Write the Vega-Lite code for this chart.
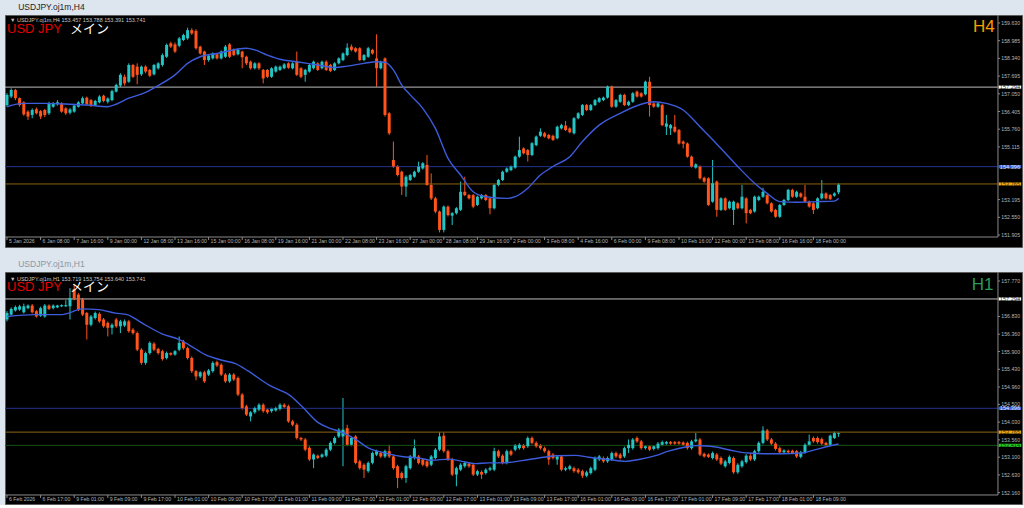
{
"$schema":"https://vega.github.io/schema/vega-lite/v6.json",
"background":"#dde5ee",
"padding":{"left":3,"right":4,"top":2,"bottom":0},
"spacing":11,
"datasets":{
"h4":[
{"i":0,"o":156.64,"h":157.07,"l":156.58,"c":157.01},{"i":1,"o":156.95,"h":157.25,"l":156.89,"c":157.19},{"i":2,"o":157.19,"h":157.23,"l":156.82,"c":156.89},{"i":3,"o":156.89,"h":156.92,"l":156.58,"c":156.64},{"i":4,"o":156.74,"h":156.78,"l":156.25,"c":156.30},{"i":5,"o":156.40,"h":156.45,"l":156.10,"c":156.22},{"i":6,"o":156.28,"h":156.52,"l":156.16,"c":156.46},{"i":7,"o":156.49,"h":156.55,"l":156.30,"c":156.34},{"i":8,"o":156.42,"h":156.46,"l":156.13,"c":156.22},{"i":9,"o":156.46,"h":156.50,"l":156.20,"c":156.28},
{"i":10,"o":156.34,"h":156.76,"l":156.28,"c":156.70},{"i":11,"o":156.58,"h":156.75,"l":156.54,"c":156.70},{"i":12,"o":156.67,"h":156.82,"l":156.62,"c":156.74},{"i":13,"o":156.70,"h":156.74,"l":156.36,"c":156.40},{"i":14,"o":156.52,"h":156.56,"l":156.28,"c":156.34},{"i":15,"o":156.36,"h":156.53,"l":156.30,"c":156.48},{"i":16,"o":156.40,"h":156.66,"l":156.36,"c":156.62},{"i":17,"o":156.58,"h":156.78,"l":156.55,"c":156.74},{"i":18,"o":156.70,"h":156.95,"l":156.66,"c":156.89},{"i":19,"o":156.91,"h":156.95,"l":156.62,"c":156.67},
{"i":20,"o":156.82,"h":156.86,"l":156.57,"c":156.62},{"i":21,"o":156.64,"h":156.83,"l":156.60,"c":156.79},{"i":22,"o":156.74,"h":157.00,"l":156.70,"c":156.95},{"i":23,"o":156.98,"h":157.02,"l":156.74,"c":156.79},{"i":24,"o":156.76,"h":156.92,"l":156.70,"c":156.88},{"i":25,"o":156.82,"h":157.20,"l":156.78,"c":157.15},{"i":26,"o":157.13,"h":157.42,"l":157.10,"c":157.37},{"i":27,"o":157.35,"h":157.80,"l":157.30,"c":157.74},{"i":28,"o":157.67,"h":157.75,"l":157.35,"c":157.43},{"i":29,"o":157.49,"h":158.16,"l":157.45,"c":158.10},
{"i":30,"o":158.10,"h":158.14,"l":157.62,"c":157.67},{"i":31,"o":158.04,"h":158.16,"l":157.40,"c":157.74},{"i":32,"o":157.76,"h":158.08,"l":157.70,"c":158.04},{"i":33,"o":158.04,"h":158.09,"l":157.80,"c":157.86},{"i":34,"o":157.92,"h":157.96,"l":157.66,"c":157.71},{"i":35,"o":157.76,"h":158.14,"l":157.72,"c":158.10},{"i":36,"o":157.98,"h":158.20,"l":157.93,"c":158.16},{"i":37,"o":158.10,"h":158.52,"l":158.04,"c":158.46},{"i":38,"o":158.40,"h":158.88,"l":158.36,"c":158.83},{"i":39,"o":158.89,"h":158.95,"l":158.72,"c":158.77},
{"i":40,"o":158.85,"h":158.92,"l":158.54,"c":158.59},{"i":41,"o":158.80,"h":159.12,"l":158.75,"c":159.07},{"i":42,"o":159.01,"h":159.24,"l":158.97,"c":159.19},{"i":43,"o":159.07,"h":159.46,"l":159.02,"c":159.37},{"i":44,"o":159.37,"h":159.44,"l":159.20,"c":159.25},{"i":45,"o":159.34,"h":159.40,"l":158.66,"c":158.71},{"i":46,"o":158.77,"h":158.80,"l":158.48,"c":158.52},{"i":47,"o":158.59,"h":158.62,"l":158.10,"c":158.28},{"i":48,"o":158.28,"h":158.48,"l":158.22,"c":158.44},{"i":49,"o":158.34,"h":158.56,"l":158.30,"c":158.52},
{"i":50,"o":158.49,"h":158.54,"l":158.30,"c":158.34},{"i":51,"o":158.34,"h":158.63,"l":158.30,"c":158.59},{"i":52,"o":158.40,"h":158.83,"l":158.36,"c":158.77},{"i":53,"o":158.85,"h":158.90,"l":158.35,"c":158.40},{"i":54,"o":158.65,"h":158.70,"l":158.42,"c":158.46},{"i":55,"o":158.49,"h":158.70,"l":158.45,"c":158.65},{"i":56,"o":158.59,"h":158.62,"l":157.98,"c":158.38},{"i":57,"o":158.40,"h":158.44,"l":158.10,"c":158.16},{"i":58,"o":158.22,"h":158.26,"l":157.93,"c":157.98},{"i":59,"o":157.98,"h":158.20,"l":157.94,"c":158.16},
{"i":60,"o":158.16,"h":158.20,"l":157.92,"c":157.98},{"i":61,"o":157.92,"h":157.96,"l":157.43,"c":157.61},{"i":62,"o":157.92,"h":157.95,"l":157.62,"c":157.67},{"i":63,"o":157.67,"h":158.02,"l":157.63,"c":157.98},{"i":64,"o":157.86,"h":158.08,"l":157.82,"c":158.04},{"i":65,"o":157.92,"h":158.08,"l":157.88,"c":158.04},{"i":66,"o":157.98,"h":158.17,"l":157.94,"c":158.12},{"i":67,"o":158.16,"h":158.20,"l":157.96,"c":158.00},{"i":68,"o":157.98,"h":158.20,"l":157.94,"c":158.16},{"i":69,"o":158.22,"h":158.59,"l":157.70,"c":157.74},
{"i":70,"o":157.98,"h":158.02,"l":157.62,"c":157.67},{"i":71,"o":157.74,"h":157.96,"l":157.49,"c":157.92},{"i":72,"o":157.86,"h":158.14,"l":157.82,"c":158.10},{"i":73,"o":157.98,"h":158.26,"l":157.94,"c":158.22},{"i":74,"o":158.16,"h":158.20,"l":157.88,"c":157.92},{"i":75,"o":157.98,"h":158.26,"l":157.94,"c":158.22},{"i":76,"o":158.22,"h":158.27,"l":157.88,"c":157.92},{"i":77,"o":158.10,"h":158.14,"l":157.84,"c":157.88},{"i":78,"o":157.92,"h":158.20,"l":157.88,"c":158.16},{"i":79,"o":158.16,"h":158.38,"l":158.12,"c":158.34},
{"i":80,"o":158.28,"h":158.56,"l":158.24,"c":158.52},{"i":81,"o":158.46,"h":158.89,"l":158.42,"c":158.73},{"i":82,"o":158.77,"h":158.85,"l":158.60,"c":158.65},{"i":83,"o":158.71,"h":158.75,"l":158.55,"c":158.59},{"i":84,"o":158.71,"h":158.75,"l":158.24,"c":158.28},{"i":85,"o":158.28,"h":158.50,"l":158.24,"c":158.46},{"i":86,"o":158.40,"h":158.76,"l":158.36,"c":158.71},{"i":87,"o":158.65,"h":158.69,"l":158.48,"c":158.52},{"i":88,"o":158.34,"h":159.22,"l":157.31,"c":157.98},{"i":89,"o":157.98,"h":158.26,"l":157.94,"c":158.22},
{"i":90,"o":158.34,"h":158.38,"l":156.22,"c":156.28},{"i":91,"o":156.34,"h":156.38,"l":155.55,"c":155.61},{"i":92,"o":154.64,"h":155.31,"l":154.35,"c":154.40},{"i":93,"o":154.40,"h":154.45,"l":154.04,"c":154.09},{"i":94,"o":154.21,"h":154.25,"l":153.36,"c":153.67},{"i":95,"o":153.67,"h":154.08,"l":153.30,"c":154.03},{"i":96,"o":153.91,"h":154.13,"l":153.87,"c":154.09},{"i":97,"o":154.03,"h":154.25,"l":153.99,"c":154.21},{"i":98,"o":154.21,"h":154.58,"l":154.17,"c":154.40},{"i":99,"o":154.33,"h":154.56,"l":154.29,"c":154.52},
{"i":100,"o":154.46,"h":154.82,"l":153.70,"c":153.73},{"i":101,"o":153.73,"h":154.15,"l":153.18,"c":153.24},{"i":102,"o":153.24,"h":153.30,"l":152.70,"c":152.76},{"i":103,"o":152.76,"h":152.80,"l":152.00,"c":152.09},{"i":104,"o":152.09,"h":152.98,"l":152.00,"c":152.94},{"i":105,"o":152.94,"h":152.98,"l":152.58,"c":152.63},{"i":106,"o":152.61,"h":152.74,"l":152.27,"c":152.70},{"i":107,"o":152.70,"h":152.92,"l":152.65,"c":152.88},{"i":108,"o":152.82,"h":153.85,"l":152.78,"c":153.48},{"i":109,"o":153.48,"h":154.03,"l":153.32,"c":153.36},
{"i":110,"o":153.36,"h":153.40,"l":153.20,"c":153.24},{"i":111,"o":153.36,"h":153.40,"l":152.88,"c":152.94},{"i":112,"o":153.00,"h":153.34,"l":152.96,"c":153.30},{"i":113,"o":153.24,"h":153.40,"l":153.20,"c":153.36},{"i":114,"o":153.36,"h":153.40,"l":153.14,"c":153.18},{"i":115,"o":153.24,"h":153.28,"l":152.66,"c":152.88},{"i":116,"o":152.88,"h":153.77,"l":152.84,"c":153.73},{"i":117,"o":153.73,"h":153.95,"l":153.68,"c":153.91},{"i":118,"o":153.91,"h":154.25,"l":153.87,"c":154.21},{"i":119,"o":154.21,"h":154.37,"l":154.17,"c":154.33},
{"i":120,"o":154.27,"h":154.44,"l":154.23,"c":154.40},{"i":121,"o":154.36,"h":154.80,"l":154.32,"c":154.76},{"i":122,"o":154.76,"h":155.49,"l":154.72,"c":155.00},{"i":123,"o":155.06,"h":155.10,"l":154.84,"c":154.88},{"i":124,"o":155.00,"h":155.04,"l":154.58,"c":154.82},{"i":125,"o":154.82,"h":155.29,"l":154.78,"c":155.25},{"i":126,"o":155.18,"h":155.53,"l":155.14,"c":155.49},{"i":127,"o":155.52,"h":155.79,"l":155.48,"c":155.67},{"i":128,"o":155.61,"h":155.66,"l":155.45,"c":155.49},{"i":129,"o":155.55,"h":155.59,"l":155.39,"c":155.43},
{"i":130,"o":155.52,"h":155.56,"l":155.33,"c":155.37},{"i":131,"o":155.43,"h":155.89,"l":155.39,"c":155.85},{"i":132,"o":155.79,"h":155.96,"l":155.75,"c":155.91},{"i":133,"o":155.89,"h":156.06,"l":155.69,"c":155.73},{"i":134,"o":155.79,"h":155.83,"l":155.61,"c":155.65},{"i":135,"o":155.61,"h":156.20,"l":155.57,"c":156.16},{"i":136,"o":156.16,"h":156.38,"l":156.12,"c":156.34},{"i":137,"o":156.28,"h":156.68,"l":156.24,"c":156.64},{"i":138,"o":156.64,"h":156.68,"l":156.42,"c":156.46},{"i":139,"o":156.46,"h":156.68,"l":156.42,"c":156.64},
{"i":140,"o":156.64,"h":156.86,"l":156.60,"c":156.82},{"i":141,"o":156.76,"h":156.93,"l":156.72,"c":156.89},{"i":142,"o":156.82,"h":156.95,"l":156.78,"c":156.91},{"i":143,"o":156.91,"h":157.35,"l":156.87,"c":157.31},{"i":144,"o":157.31,"h":157.35,"l":156.54,"c":156.58},{"i":145,"o":156.58,"h":156.86,"l":156.54,"c":156.82},{"i":146,"o":156.76,"h":157.05,"l":156.72,"c":157.01},{"i":147,"o":157.01,"h":157.05,"l":156.60,"c":156.64},{"i":148,"o":156.64,"h":156.80,"l":156.60,"c":156.76},{"i":149,"o":156.76,"h":157.11,"l":156.72,"c":157.07},
{"i":150,"o":157.13,"h":157.17,"l":156.91,"c":156.95},{"i":151,"o":157.07,"h":157.11,"l":156.91,"c":156.95},{"i":152,"o":157.03,"h":157.53,"l":156.99,"c":157.49},{"i":153,"o":157.49,"h":157.67,"l":156.22,"c":156.64},{"i":154,"o":156.70,"h":156.74,"l":156.54,"c":156.58},{"i":155,"o":156.58,"h":156.74,"l":156.54,"c":156.70},{"i":156,"o":156.64,"h":156.68,"l":155.87,"c":155.91},{"i":157,"o":155.85,"h":156.28,"l":155.55,"c":155.97},{"i":158,"o":155.79,"h":155.95,"l":155.55,"c":155.91},{"i":159,"o":155.85,"h":156.28,"l":155.63,"c":155.67},
{"i":160,"o":155.73,"h":155.77,"l":155.20,"c":155.24},{"i":161,"o":155.31,"h":155.35,"l":155.06,"c":155.23},{"i":162,"o":155.24,"h":155.28,"l":154.72,"c":154.76},{"i":163,"o":154.76,"h":154.80,"l":154.36,"c":154.40},{"i":164,"o":154.36,"h":154.52,"l":154.32,"c":154.48},{"i":165,"o":154.40,"h":154.44,"l":153.93,"c":153.97},{"i":166,"o":153.99,"h":154.03,"l":153.81,"c":153.85},{"i":167,"o":153.97,"h":154.01,"l":152.96,"c":153.00},{"i":168,"o":153.12,"h":154.64,"l":153.08,"c":153.79},{"i":169,"o":153.85,"h":153.89,"l":152.57,"c":152.82},
{"i":170,"o":152.82,"h":153.28,"l":152.78,"c":153.24},{"i":171,"o":153.24,"h":153.28,"l":152.78,"c":152.82},{"i":172,"o":152.88,"h":153.16,"l":152.84,"c":153.12},{"i":173,"o":152.82,"h":153.16,"l":152.27,"c":153.12},{"i":174,"o":153.06,"h":153.10,"l":152.84,"c":152.88},{"i":175,"o":152.88,"h":153.73,"l":152.84,"c":153.30},{"i":176,"o":153.24,"h":153.28,"l":152.33,"c":152.70},{"i":177,"o":152.82,"h":152.86,"l":152.66,"c":152.70},{"i":178,"o":152.76,"h":153.34,"l":152.72,"c":153.30},{"i":179,"o":153.18,"h":153.34,"l":153.14,"c":153.30},
{"i":180,"o":153.30,"h":153.63,"l":153.26,"c":153.48},{"i":181,"o":153.36,"h":153.40,"l":153.02,"c":153.06},{"i":182,"o":153.06,"h":153.10,"l":152.72,"c":152.76},{"i":183,"o":152.82,"h":152.86,"l":152.53,"c":152.57},{"i":184,"o":152.57,"h":153.04,"l":152.53,"c":153.00},{"i":185,"o":153.00,"h":153.22,"l":152.96,"c":153.18},{"i":186,"o":153.18,"h":153.59,"l":153.14,"c":153.55},{"i":187,"o":153.55,"h":153.59,"l":153.26,"c":153.30},{"i":188,"o":153.30,"h":153.52,"l":153.26,"c":153.48},{"i":189,"o":153.42,"h":153.46,"l":153.26,"c":153.30},
{"i":190,"o":153.30,"h":153.73,"l":153.08,"c":153.12},{"i":191,"o":153.12,"h":153.16,"l":152.90,"c":152.94},{"i":192,"o":153.06,"h":153.10,"l":152.67,"c":152.82},{"i":193,"o":152.88,"h":153.28,"l":152.84,"c":153.24},{"i":194,"o":153.24,"h":153.91,"l":153.20,"c":153.42},{"i":195,"o":153.42,"h":153.46,"l":153.20,"c":153.24},{"i":196,"o":153.36,"h":153.40,"l":153.18,"c":153.22},{"i":197,"o":153.34,"h":153.46,"l":153.30,"c":153.42},{"i":198,"o":153.46,"h":153.79,"l":153.39,"c":153.74}
],
"h1":[
{"i":0,"o":156.75,"h":156.97,"l":156.70,"c":156.92},{"i":1,"o":156.88,"h":157.07,"l":156.85,"c":157.03},{"i":2,"o":156.99,"h":157.12,"l":156.96,"c":157.08},{"i":3,"o":157.01,"h":157.14,"l":156.98,"c":157.10},{"i":4,"o":156.94,"h":157.17,"l":156.91,"c":157.10},{"i":5,"o":157.05,"h":157.15,"l":157.02,"c":157.12},{"i":6,"o":157.12,"h":157.16,"l":156.91,"c":156.94},{"i":7,"o":156.97,"h":157.00,"l":156.80,"c":156.83},{"i":8,"o":156.85,"h":157.09,"l":156.82,"c":157.05},{"i":9,"o":156.83,"h":157.16,"l":156.80,"c":157.12},
{"i":10,"o":157.12,"h":157.15,"l":157.00,"c":157.03},{"i":11,"o":157.05,"h":157.15,"l":157.02,"c":157.12},{"i":12,"o":157.07,"h":157.14,"l":157.05,"c":157.12},{"i":13,"o":157.10,"h":157.15,"l":157.08,"c":157.13},{"i":14,"o":157.10,"h":157.26,"l":157.08,"c":157.13},{"i":15,"o":157.10,"h":157.58,"l":156.75,"c":157.32},{"i":16,"o":157.56,"h":157.67,"l":157.26,"c":157.29},{"i":17,"o":157.41,"h":157.45,"l":156.97,"c":157.01},{"i":18,"o":157.28,"h":157.32,"l":156.84,"c":156.88},{"i":19,"o":156.92,"h":156.95,"l":156.22,"c":156.61},
{"i":20,"o":156.61,"h":156.87,"l":156.57,"c":156.83},{"i":21,"o":156.79,"h":156.96,"l":156.75,"c":156.92},{"i":22,"o":156.90,"h":156.94,"l":156.66,"c":156.70},{"i":23,"o":156.75,"h":156.79,"l":156.53,"c":156.57},{"i":24,"o":156.66,"h":156.70,"l":156.30,"c":156.53},{"i":25,"o":156.53,"h":156.65,"l":156.35,"c":156.61},{"i":26,"o":156.75,"h":156.79,"l":156.53,"c":156.57},{"i":27,"o":156.57,"h":156.74,"l":156.39,"c":156.70},{"i":28,"o":156.59,"h":156.75,"l":156.55,"c":156.70},{"i":29,"o":156.70,"h":156.74,"l":156.40,"c":156.44},
{"i":30,"o":156.48,"h":156.52,"l":156.35,"c":156.39},{"i":31,"o":156.39,"h":156.43,"l":155.91,"c":155.95},{"i":32,"o":155.95,"h":155.99,"l":155.55,"c":155.60},{"i":33,"o":155.60,"h":155.90,"l":155.55,"c":155.86},{"i":34,"o":155.86,"h":156.17,"l":155.82,"c":156.13},{"i":35,"o":156.11,"h":156.15,"l":155.91,"c":155.95},{"i":36,"o":155.97,"h":156.00,"l":155.82,"c":155.86},{"i":37,"o":155.91,"h":155.95,"l":155.66,"c":155.70},{"i":38,"o":155.73,"h":155.90,"l":155.69,"c":155.86},{"i":39,"o":155.86,"h":155.88,"l":155.79,"c":155.82},
{"i":40,"o":155.82,"h":155.94,"l":155.79,"c":155.91},{"i":41,"o":155.95,"h":156.30,"l":155.91,"c":156.13},{"i":42,"o":156.17,"h":156.21,"l":155.95,"c":155.99},{"i":43,"o":155.99,"h":156.03,"l":155.69,"c":155.73},{"i":44,"o":155.73,"h":155.77,"l":155.33,"c":155.38},{"i":45,"o":155.38,"h":155.41,"l":155.14,"c":155.24},{"i":46,"o":155.24,"h":155.38,"l":155.20,"c":155.35},{"i":47,"o":155.35,"h":155.39,"l":155.07,"c":155.11},{"i":48,"o":155.29,"h":155.44,"l":155.25,"c":155.40},{"i":49,"o":155.38,"h":155.64,"l":155.34,"c":155.60},
{"i":50,"o":155.62,"h":155.66,"l":155.49,"c":155.53},{"i":51,"o":155.55,"h":155.59,"l":155.25,"c":155.29},{"i":52,"o":155.29,"h":155.33,"l":155.07,"c":155.11},{"i":53,"o":155.11,"h":155.33,"l":155.07,"c":155.29},{"i":54,"o":155.29,"h":155.33,"l":155.12,"c":155.16},{"i":55,"o":155.20,"h":155.24,"l":154.72,"c":154.76},{"i":56,"o":154.76,"h":154.80,"l":154.36,"c":154.40},{"i":57,"o":154.45,"h":154.49,"l":154.19,"c":154.23},{"i":58,"o":154.18,"h":154.32,"l":154.05,"c":154.29},{"i":59,"o":154.29,"h":154.44,"l":154.25,"c":154.40},
{"i":60,"o":154.36,"h":154.53,"l":154.32,"c":154.49},{"i":61,"o":154.49,"h":154.53,"l":154.28,"c":154.32},{"i":62,"o":154.36,"h":154.39,"l":154.25,"c":154.29},{"i":63,"o":154.32,"h":154.41,"l":154.28,"c":154.38},{"i":64,"o":154.34,"h":154.44,"l":154.31,"c":154.40},{"i":65,"o":154.38,"h":154.53,"l":154.34,"c":154.49},{"i":66,"o":154.49,"h":154.53,"l":154.40,"c":154.43},{"i":67,"o":154.45,"h":154.49,"l":154.01,"c":154.05},{"i":68,"o":154.05,"h":154.09,"l":153.92,"c":153.96},{"i":69,"o":153.96,"h":154.00,"l":153.57,"c":153.61},
{"i":70,"o":153.61,"h":153.64,"l":153.53,"c":153.57},{"i":71,"o":153.57,"h":153.61,"l":153.26,"c":153.30},{"i":72,"o":153.35,"h":153.39,"l":153.00,"c":153.04},{"i":73,"o":153.04,"h":153.20,"l":152.81,"c":153.17},{"i":74,"o":153.14,"h":153.17,"l":153.05,"c":153.08},{"i":75,"o":153.11,"h":153.20,"l":153.08,"c":153.17},{"i":76,"o":153.14,"h":153.34,"l":153.10,"c":153.30},{"i":77,"o":153.30,"h":153.52,"l":153.26,"c":153.48},{"i":78,"o":153.48,"h":153.65,"l":153.44,"c":153.61},{"i":79,"o":153.65,"h":153.87,"l":153.61,"c":153.83},
{"i":80,"o":153.65,"h":154.67,"l":152.86,"c":153.83},{"i":81,"o":153.87,"h":153.96,"l":153.39,"c":153.43},{"i":82,"o":153.43,"h":153.65,"l":153.39,"c":153.61},{"i":83,"o":153.65,"h":153.69,"l":152.91,"c":152.95},{"i":84,"o":152.99,"h":153.03,"l":152.77,"c":152.81},{"i":85,"o":152.90,"h":152.94,"l":152.55,"c":152.77},{"i":86,"o":152.73,"h":152.99,"l":152.69,"c":152.95},{"i":87,"o":152.95,"h":153.25,"l":152.91,"c":153.21},{"i":88,"o":153.17,"h":153.30,"l":153.13,"c":153.26},{"i":89,"o":153.21,"h":153.25,"l":153.08,"c":153.12},
{"i":90,"o":153.12,"h":153.30,"l":153.08,"c":153.26},{"i":91,"o":153.26,"h":153.43,"l":153.08,"c":153.12},{"i":92,"o":153.12,"h":153.16,"l":152.77,"c":152.81},{"i":93,"o":152.86,"h":152.90,"l":152.28,"c":152.55},{"i":94,"o":152.68,"h":152.72,"l":152.51,"c":152.55},{"i":95,"o":152.55,"h":152.90,"l":152.42,"c":152.86},{"i":96,"o":152.81,"h":153.16,"l":152.77,"c":153.12},{"i":97,"o":153.08,"h":153.57,"l":153.04,"c":153.34},{"i":98,"o":153.12,"h":153.16,"l":152.91,"c":152.95},{"i":99,"o":153.04,"h":153.08,"l":152.86,"c":152.90},
{"i":100,"o":152.99,"h":153.03,"l":152.82,"c":152.86},{"i":101,"o":152.90,"h":153.16,"l":152.86,"c":153.12},{"i":102,"o":153.08,"h":153.34,"l":153.04,"c":153.30},{"i":103,"o":153.30,"h":153.76,"l":153.26,"c":153.65},{"i":104,"o":153.67,"h":153.76,"l":153.22,"c":153.26},{"i":105,"o":153.26,"h":153.30,"l":153.00,"c":153.04},{"i":106,"o":153.04,"h":153.08,"l":152.60,"c":152.64},{"i":107,"o":152.64,"h":152.85,"l":152.33,"c":152.81},{"i":108,"o":152.77,"h":152.94,"l":152.73,"c":152.90},{"i":109,"o":152.86,"h":152.99,"l":152.82,"c":152.95},
{"i":110,"o":152.93,"h":152.97,"l":152.82,"c":152.86},{"i":111,"o":152.90,"h":152.94,"l":152.60,"c":152.64},{"i":112,"o":152.64,"h":152.77,"l":152.60,"c":152.73},{"i":113,"o":152.71,"h":152.75,"l":152.52,"c":152.64},{"i":114,"o":152.68,"h":152.81,"l":152.64,"c":152.77},{"i":115,"o":152.77,"h":152.85,"l":152.73,"c":152.81},{"i":116,"o":152.77,"h":153.35,"l":152.73,"c":153.26},{"i":117,"o":153.26,"h":153.30,"l":153.08,"c":153.12},{"i":118,"o":153.14,"h":153.18,"l":152.91,"c":152.95},{"i":119,"o":152.95,"h":153.30,"l":152.91,"c":153.26},
{"i":120,"o":153.26,"h":153.30,"l":153.13,"c":153.17},{"i":121,"o":153.30,"h":153.45,"l":153.26,"c":153.41},{"i":122,"o":153.34,"h":153.47,"l":153.30,"c":153.43},{"i":123,"o":153.41,"h":153.45,"l":153.30,"c":153.34},{"i":124,"o":153.39,"h":153.65,"l":153.35,"c":153.61},{"i":125,"o":153.61,"h":153.65,"l":153.44,"c":153.48},{"i":126,"o":153.48,"h":153.52,"l":153.35,"c":153.39},{"i":127,"o":153.41,"h":153.45,"l":153.30,"c":153.34},{"i":128,"o":153.34,"h":153.38,"l":153.22,"c":153.26},{"i":129,"o":153.26,"h":153.30,"l":152.90,"c":153.04},
{"i":130,"o":153.17,"h":153.21,"l":153.04,"c":153.08},{"i":131,"o":153.04,"h":153.16,"l":152.90,"c":153.12},{"i":132,"o":153.12,"h":153.16,"l":152.73,"c":152.77},{"i":133,"o":152.77,"h":152.85,"l":152.73,"c":152.81},{"i":134,"o":152.79,"h":152.90,"l":152.75,"c":152.86},{"i":135,"o":152.81,"h":152.85,"l":152.69,"c":152.73},{"i":136,"o":152.77,"h":152.81,"l":152.66,"c":152.70},{"i":137,"o":152.73,"h":152.77,"l":152.55,"c":152.61},{"i":138,"o":152.61,"h":152.74,"l":152.57,"c":152.70},{"i":139,"o":152.68,"h":152.85,"l":152.64,"c":152.81},
{"i":140,"o":152.77,"h":153.12,"l":152.73,"c":153.08},{"i":141,"o":153.04,"h":153.16,"l":153.00,"c":153.12},{"i":142,"o":153.08,"h":153.12,"l":152.95,"c":152.99},{"i":143,"o":152.99,"h":153.12,"l":152.95,"c":153.08},{"i":144,"o":153.04,"h":153.25,"l":153.00,"c":153.21},{"i":145,"o":153.21,"h":153.25,"l":153.08,"c":153.12},{"i":146,"o":153.17,"h":153.21,"l":153.04,"c":153.08},{"i":147,"o":153.12,"h":153.38,"l":153.08,"c":153.34},{"i":148,"o":153.34,"h":153.57,"l":153.21,"c":153.43},{"i":149,"o":153.34,"h":153.61,"l":153.30,"c":153.57},
{"i":150,"o":153.61,"h":153.65,"l":153.48,"c":153.52},{"i":151,"o":153.52,"h":153.56,"l":153.30,"c":153.34},{"i":152,"o":153.34,"h":153.42,"l":153.30,"c":153.39},{"i":153,"o":153.39,"h":153.42,"l":153.26,"c":153.30},{"i":154,"o":153.32,"h":153.42,"l":153.28,"c":153.39},{"i":155,"o":153.34,"h":153.50,"l":153.30,"c":153.46},{"i":156,"o":153.43,"h":153.54,"l":153.39,"c":153.50},{"i":157,"o":153.46,"h":153.53,"l":153.43,"c":153.50},{"i":158,"o":153.50,"h":153.53,"l":153.43,"c":153.46},{"i":159,"o":153.50,"h":153.53,"l":153.43,"c":153.46},
{"i":160,"o":153.50,"h":153.53,"l":153.43,"c":153.46},{"i":161,"o":153.49,"h":153.52,"l":153.40,"c":153.43},{"i":162,"o":153.48,"h":153.51,"l":153.30,"c":153.34},{"i":163,"o":153.34,"h":153.56,"l":153.30,"c":153.52},{"i":164,"o":153.52,"h":153.74,"l":153.49,"c":153.57},{"i":165,"o":153.57,"h":153.61,"l":153.13,"c":153.17},{"i":166,"o":153.19,"h":153.22,"l":153.09,"c":153.12},{"i":167,"o":153.17,"h":153.20,"l":153.08,"c":153.11},{"i":168,"o":153.08,"h":153.25,"l":153.04,"c":153.21},{"i":169,"o":153.17,"h":153.21,"l":153.00,"c":153.04},
{"i":170,"o":153.08,"h":153.12,"l":152.89,"c":152.93},{"i":171,"o":152.86,"h":153.03,"l":152.82,"c":152.99},{"i":172,"o":152.95,"h":153.15,"l":152.91,"c":153.11},{"i":173,"o":153.08,"h":153.12,"l":152.66,"c":152.70},{"i":174,"o":152.70,"h":152.94,"l":152.66,"c":152.90},{"i":175,"o":152.86,"h":153.03,"l":152.82,"c":152.99},{"i":176,"o":152.97,"h":153.18,"l":152.93,"c":153.14},{"i":177,"o":153.14,"h":153.18,"l":153.00,"c":153.04},{"i":178,"o":153.04,"h":153.30,"l":153.00,"c":153.26},{"i":179,"o":153.26,"h":153.52,"l":153.22,"c":153.48},
{"i":180,"o":153.48,"h":153.92,"l":153.44,"c":153.81},{"i":181,"o":153.81,"h":153.85,"l":153.53,"c":153.57},{"i":182,"o":153.57,"h":153.61,"l":153.42,"c":153.46},{"i":183,"o":153.46,"h":153.50,"l":153.28,"c":153.32},{"i":184,"o":153.34,"h":153.38,"l":153.19,"c":153.23},{"i":185,"o":153.23,"h":153.31,"l":153.19,"c":153.28},{"i":186,"o":153.27,"h":153.30,"l":153.20,"c":153.23},{"i":187,"o":153.27,"h":153.30,"l":153.18,"c":153.21},{"i":188,"o":153.26,"h":153.29,"l":153.08,"c":153.12},{"i":189,"o":153.11,"h":153.27,"l":153.07,"c":153.23},
{"i":190,"o":153.23,"h":153.47,"l":153.19,"c":153.43},{"i":191,"o":153.43,"h":153.70,"l":153.39,"c":153.52},{"i":192,"o":153.61,"h":153.65,"l":153.48,"c":153.52},{"i":193,"o":153.61,"h":153.65,"l":153.46,"c":153.50},{"i":194,"o":153.58,"h":153.62,"l":153.42,"c":153.46},{"i":195,"o":153.48,"h":153.51,"l":153.39,"c":153.42},{"i":196,"o":153.43,"h":153.70,"l":153.39,"c":153.67},{"i":197,"o":153.61,"h":153.78,"l":153.58,"c":153.74},{"i":198,"o":153.72,"h":153.75,"l":153.64,"c":153.74}
],
"ma4":[
{"i":0,"m":156.58},{"i":4,"m":156.70},{"i":9,"m":156.70},{"i":15,"m":156.67},{"i":19,"m":156.64},{"i":24,"m":156.58},{"i":26,"m":156.67},{"i":29,"m":156.89},{"i":33,"m":157.10},{"i":36,"m":157.35},{"i":40,"m":157.74},{"i":43,"m":158.16},{"i":46,"m":158.40},{"i":50,"m":158.52},{"i":57,"m":158.71},{"i":59,"m":158.65},{"i":62,"m":158.46},{"i":65,"m":158.31},{"i":69,"m":158.22},{"i":74,"m":158.10},{"i":78,"m":158.01},{"i":81,"m":158.06},{"i":85,"m":158.16},{"i":88,"m":158.22},{"i":90,"m":158.20},{"i":92,"m":157.92},{"i":94,"m":157.37},{"i":96,"m":157.01},{"i":99,"m":156.52},{"i":102,"m":155.79},{"i":105,"m":154.70},{"i":108,"m":154.09},{"i":111,"m":153.48},{"i":114,"m":153.30},{"i":119,"m":153.24},{"i":121,"m":153.30},{"i":124,"m":153.61},{"i":127,"m":154.09},{"i":130,"m":154.40},{"i":134,"m":154.76},{"i":137,"m":155.31},{"i":141,"m":155.91},{"i":146,"m":156.34},{"i":151,"m":156.67},{"i":154,"m":156.76},{"i":157,"m":156.70},{"i":161,"m":156.46},{"i":165,"m":155.85},{"i":170,"m":155.06},{"i":174,"m":154.40},{"i":178,"m":153.79},{"i":181,"m":153.42},{"i":184,"m":153.12},{"i":188,"m":153.10},{"i":193,"m":153.12},{"i":197,"m":153.14},{"i":198,"m":153.24}
],
"ma1":[
{"i":0,"m":156.83},{"i":6.7,"m":156.88},{"i":13.1,"m":156.88},{"i":14.7,"m":156.92},{"i":17.9,"m":157.03},{"i":21.8,"m":157.01},{"i":25.8,"m":156.92},{"i":28.6,"m":156.88},{"i":32.1,"m":156.66},{"i":36.9,"m":156.37},{"i":40.9,"m":156.22},{"i":43.3,"m":156.08},{"i":47.2,"m":155.82},{"i":51.2,"m":155.67},{"i":54.4,"m":155.58},{"i":57.5,"m":155.38},{"i":62.3,"m":155.02},{"i":64.7,"m":154.89},{"i":67.1,"m":154.76},{"i":70.2,"m":154.45},{"i":74.2,"m":154.01},{"i":76.6,"m":153.88},{"i":79.8,"m":153.76},{"i":82.9,"m":153.58},{"i":86.1,"m":153.34},{"i":90.1,"m":153.21},{"i":94,"m":153.12},{"i":98,"m":153.08},{"i":101.2,"m":153.02},{"i":105.2,"m":153.05},{"i":108.3,"m":152.99},{"i":111.5,"m":152.93},{"i":114.7,"m":152.95},{"i":117.9,"m":152.95},{"i":122.6,"m":153.01},{"i":126.6,"m":153.08},{"i":129,"m":153.12},{"i":130.6,"m":153.14},{"i":135.3,"m":153.15},{"i":138.5,"m":153.10},{"i":143.3,"m":153.04},{"i":147.2,"m":152.99},{"i":150.4,"m":153.04},{"i":154.4,"m":153.14},{"i":157.5,"m":153.26},{"i":161.5,"m":153.37},{"i":164.6,"m":153.41},{"i":168.7,"m":153.37},{"i":173.4,"m":153.26},{"i":176.6,"m":153.21},{"i":181.3,"m":153.19},{"i":184.5,"m":153.19},{"i":189.3,"m":153.21},{"i":192.5,"m":153.30},{"i":195.6,"m":153.39},{"i":198,"m":153.45}
],
"lv4":[{"k":"w","p":157.294},{"k":"b","p":154.396},{"k":"o","p":153.765}],
"lv1":[{"k":"w","p":157.294},{"k":"b","p":154.396},{"k":"o","p":153.765},{"k":"g","p":153.414}],
"yt4":[{"v":159.63},{"v":158.985},{"v":158.34},{"v":157.695},{"v":157.05},{"v":156.405},{"v":155.76},{"v":155.115},{"v":153.195},{"v":152.55},{"v":151.905}],
"yt1":[{"v":157.77},{"v":156.83},{"v":156.36},{"v":155.9},{"v":155.43},{"v":154.96},{"v":154.5},{"v":154.03},{"v":153.56},{"v":153.1},{"v":152.63},{"v":152.16}],
"xt4":[{"i":0,"t":"5 Jan 2026"},{"i":8,"t":"6 Jan 08:00"},{"i":16,"t":"7 Jan 16:00"},{"i":24,"t":"9 Jan 00:00"},{"i":32,"t":"12 Jan 08:00"},{"i":40,"t":"13 Jan 16:00"},{"i":48,"t":"15 Jan 00:00"},{"i":56,"t":"16 Jan 08:00"},{"i":64,"t":"19 Jan 16:00"},{"i":72,"t":"21 Jan 00:00"},{"i":80,"t":"22 Jan 08:00"},{"i":88,"t":"23 Jan 16:00"},{"i":96,"t":"27 Jan 00:00"},{"i":104,"t":"28 Jan 08:00"},{"i":112,"t":"29 Jan 16:00"},{"i":120,"t":"2 Feb 00:00"},{"i":128,"t":"3 Feb 08:00"},{"i":136,"t":"4 Feb 16:00"},{"i":144,"t":"6 Feb 00:00"},{"i":152,"t":"9 Feb 08:00"},{"i":160,"t":"10 Feb 16:00"},{"i":168,"t":"12 Feb 00:00"},{"i":176,"t":"13 Feb 08:00"},{"i":184,"t":"16 Feb 16:00"},{"i":192,"t":"18 Feb 00:00"}],
"xt1":[{"i":0,"t":"6 Feb 2026"},{"i":8,"t":"6 Feb 17:00"},{"i":16,"t":"9 Feb 01:00"},{"i":24,"t":"9 Feb 09:00"},{"i":32,"t":"9 Feb 17:00"},{"i":40,"t":"10 Feb 01:00"},{"i":48,"t":"10 Feb 09:00"},{"i":56,"t":"10 Feb 17:00"},{"i":64,"t":"11 Feb 01:00"},{"i":72,"t":"11 Feb 09:00"},{"i":80,"t":"11 Feb 17:00"},{"i":88,"t":"12 Feb 01:00"},{"i":96,"t":"12 Feb 09:00"},{"i":104,"t":"12 Feb 17:00"},{"i":112,"t":"13 Feb 01:00"},{"i":120,"t":"13 Feb 09:00"},{"i":128,"t":"13 Feb 17:00"},{"i":136,"t":"16 Feb 01:00"},{"i":144,"t":"16 Feb 09:00"},{"i":152,"t":"16 Feb 17:00"},{"i":160,"t":"17 Feb 01:00"},{"i":168,"t":"17 Feb 09:00"},{"i":176,"t":"17 Feb 17:00"},{"i":184,"t":"18 Feb 01:00"},{"i":192,"t":"18 Feb 09:00"}]
},
"vconcat":[
{
"title":{"text":"USDJPY.oj1m,H4","anchor":"start","dx":14,"fontSize":8.5,"font":"Liberation Sans","fontWeight":"normal","color":"#1e1e1e","offset":3},
"width":1017,"height":232,
"layer":[
{"data":{"name":"h4"},"mark":{"type":"rule","strokeWidth":1},
 "encoding":{
  "x":{"field":"i","type":"quantitative","axis":null,"scale":{"domain":[-0.476,241.67],"nice":false,"zero":false,"padding":0}},
  "y":{"field":"l","type":"quantitative","axis":null,"scale":{"domain":[151.468,159.9215],"nice":false,"zero":false}},
  "y2":{"field":"h"},
  "color":{"condition":{"test":"datum.c >= datum.o","value":"#22c4c4"},"value":"#ff541c"}}},
{"data":{"name":"lv4"},"mark":{"type":"rule","strokeWidth":1},
 "encoding":{"x":{"datum":-0.476,"type":"quantitative","axis":null},"x2":{"datum":235.95},"y":{"field":"p","type":"quantitative","axis":null},
 "stroke":{"field":"k","type":"nominal","scale":{"domain":["w","b","o","g"],"range":["#bdbdbd","#24348c","#8c6414","#145214"]},"legend":null}}},
{"data":{"name":"h4"},"mark":{"type":"bar","width":3},
 "encoding":{"x":{"field":"i","type":"quantitative","axis":null},"y":{"field":"o","type":"quantitative","axis":null},"y2":{"field":"c"},
 "color":{"condition":{"test":"datum.c >= datum.o","value":"#22c4c4"},"value":"#ff541c"}}},
{"data":{"name":"ma4"},"mark":{"type":"line","color":"#3d5cdc","strokeWidth":1.4,"interpolate":"monotone"},
 "encoding":{"x":{"field":"i","type":"quantitative","axis":null},"y":{"field":"m","type":"quantitative","axis":null}}},
{"data":{"values":[{}]},"mark":{"type":"rule","color":"#8a8a8a","strokeWidth":1},
 "encoding":{"x":{"datum":235.95,"type":"quantitative","axis":null},"y":{"datum":159.9215,"type":"quantitative","axis":null},"y2":{"datum":151.832}}},
{"data":{"values":[{}]},"mark":{"type":"rule","color":"#8a8a8a","strokeWidth":1},
 "encoding":{"x":{"datum":-0.476,"type":"quantitative","axis":null},"x2":{"datum":235.95},"y":{"datum":151.832,"type":"quantitative","axis":null}}},
{"data":{"name":"yt4"},"mark":{"type":"rule","color":"#8a8a8a","strokeWidth":1},
 "encoding":{"x":{"datum":235.95,"type":"quantitative","axis":null},"x2":{"datum":236.45},"y":{"field":"v","type":"quantitative","axis":null}}},
{"data":{"name":"yt4"},"mark":{"type":"text","align":"left","baseline":"middle","fontSize":5.2,"font":"Liberation Sans","color":"#b4b4b4"},
 "encoding":{"x":{"datum":236.75,"type":"quantitative","axis":null},"y":{"field":"v","type":"quantitative","axis":null},"text":{"field":"v","type":"quantitative","format":".3f"}}},
{"data":{"name":"xt4"},"mark":{"type":"rule","color":"#8a8a8a","strokeWidth":1},
 "encoding":{"x":{"field":"i","type":"quantitative","axis":null},"y":{"datum":151.832,"type":"quantitative","axis":null},"y2":{"datum":151.72}}},
{"data":{"name":"xt4"},"mark":{"type":"text","align":"left","baseline":"top","dx":2,"fontSize":5.2,"font":"Liberation Sans","color":"#b4b4b4"},
 "encoding":{"x":{"field":"i","type":"quantitative","axis":null},"y":{"datum":151.75,"type":"quantitative","axis":null},"text":{"field":"t"}}},
{"data":{"name":"lv4"},"mark":{"type":"point","shape":"M-1,-0.14H1V0.14H-1Z","size":506,"filled":true,"opacity":1,"strokeWidth":0},
 "encoding":{"x":{"datum":238.8,"type":"quantitative","axis":null},"y":{"field":"p","type":"quantitative","axis":null},
 "fill":{"field":"k","type":"nominal","scale":{"domain":["w","b","o","g"],"range":["#ffffff","#3c62dc","#f0a818","#26c426"]},"legend":null}}},
{"data":{"name":"lv4"},"mark":{"type":"text","fontSize":5.6,"font":"Liberation Sans","baseline":"middle"},
 "encoding":{"x":{"datum":238.8,"type":"quantitative","axis":null},"y":{"field":"p","type":"quantitative","axis":null},
 "text":{"field":"p","type":"quantitative","format":".3f"},
 "color":{"field":"k","type":"nominal","scale":{"domain":["w","b","o","g"],"range":["#202020","#dfe8ff","#3a2500","#0c3a0c"]},"legend":null}}},
{"data":{"values":[{}]},"mark":{"type":"text","text":"▼ USDJPY.oj1m,H4  153.457 153.788 153.391 153.741","align":"left","baseline":"middle","fontSize":5.5,"font":"Liberation Sans","color":"#c4c4c4"},
 "encoding":{"x":{"datum":0.7,"type":"quantitative","axis":null},"y":{"datum":159.74,"type":"quantitative","axis":null}}},
{"data":{"values":[{}]},"mark":{"type":"text","text":"USD JPY","align":"left","baseline":"middle","fontSize":13,"font":"Liberation Sans","color":"#e00000"},
 "encoding":{"x":{"datum":0,"type":"quantitative","axis":null},"y":{"datum":159.42,"type":"quantitative","axis":null}}},
{"data":{"values":[{}]},"mark":{"type":"text","text":"メイン","align":"left","baseline":"middle","fontSize":13,"font":"Noto Sans CJK JP","color":"#ffffff"},
 "encoding":{"x":{"datum":15,"type":"quantitative","axis":null},"y":{"datum":159.42,"type":"quantitative","axis":null}}},
{"data":{"values":[{}]},"mark":{"type":"text","text":"H4","align":"right","baseline":"middle","fontSize":17,"font":"Liberation Sans","color":"#f5a000"},
 "encoding":{"x":{"datum":235.2,"type":"quantitative","axis":null},"y":{"datum":159.48,"type":"quantitative","axis":null}}}
]
},
{
"title":{"text":"USDJPY.oj1m,H1","anchor":"start","dx":14,"fontSize":8.5,"font":"Liberation Sans","fontWeight":"normal","color":"#8a97a6","offset":3},
"width":1017,"height":232,
"layer":[
{"data":{"name":"h1"},"mark":{"type":"rule","strokeWidth":1},
 "encoding":{
  "x":{"field":"i","type":"quantitative","axis":null,"scale":{"domain":[-0.476,241.67],"nice":false,"zero":false,"padding":0}},
  "y":{"field":"l","type":"quantitative","axis":null,"scale":{"domain":[151.86,158.0085],"nice":false,"zero":false}},
  "y2":{"field":"h"},
  "color":{"condition":{"test":"datum.c >= datum.o","value":"#22c4c4"},"value":"#ff541c"}}},
{"data":{"name":"lv1"},"mark":{"type":"rule","strokeWidth":1},
 "encoding":{"x":{"datum":-0.476,"type":"quantitative","axis":null},"x2":{"datum":235.95},"y":{"field":"p","type":"quantitative","axis":null},
 "stroke":{"field":"k","type":"nominal","scale":{"domain":["w","b","o","g"],"range":["#bdbdbd","#24348c","#8c6414","#145214"]},"legend":null}}},
{"data":{"name":"h1"},"mark":{"type":"bar","width":3},
 "encoding":{"x":{"field":"i","type":"quantitative","axis":null},"y":{"field":"o","type":"quantitative","axis":null},"y2":{"field":"c"},
 "color":{"condition":{"test":"datum.c >= datum.o","value":"#22c4c4"},"value":"#ff541c"}}},
{"data":{"name":"ma1"},"mark":{"type":"line","color":"#3d5cdc","strokeWidth":1.4,"interpolate":"monotone"},
 "encoding":{"x":{"field":"i","type":"quantitative","axis":null},"y":{"field":"m","type":"quantitative","axis":null}}},
{"data":{"values":[{}]},"mark":{"type":"rule","color":"#8a8a8a","strokeWidth":1},
 "encoding":{"x":{"datum":235.95,"type":"quantitative","axis":null},"y":{"datum":158.0085,"type":"quantitative","axis":null},"y2":{"datum":152.099}}},
{"data":{"values":[{}]},"mark":{"type":"rule","color":"#8a8a8a","strokeWidth":1},
 "encoding":{"x":{"datum":-0.476,"type":"quantitative","axis":null},"x2":{"datum":235.95},"y":{"datum":152.099,"type":"quantitative","axis":null}}},
{"data":{"name":"yt1"},"mark":{"type":"rule","color":"#8a8a8a","strokeWidth":1},
 "encoding":{"x":{"datum":235.95,"type":"quantitative","axis":null},"x2":{"datum":236.45},"y":{"field":"v","type":"quantitative","axis":null}}},
{"data":{"name":"yt1"},"mark":{"type":"text","align":"left","baseline":"middle","fontSize":5.2,"font":"Liberation Sans","color":"#b4b4b4"},
 "encoding":{"x":{"datum":236.75,"type":"quantitative","axis":null},"y":{"field":"v","type":"quantitative","axis":null},"text":{"field":"v","type":"quantitative","format":".3f"}}},
{"data":{"name":"xt1"},"mark":{"type":"rule","color":"#8a8a8a","strokeWidth":1},
 "encoding":{"x":{"field":"i","type":"quantitative","axis":null},"y":{"datum":152.099,"type":"quantitative","axis":null},"y2":{"datum":152.02}}},
{"data":{"name":"xt1"},"mark":{"type":"text","align":"left","baseline":"top","dx":2,"fontSize":5.2,"font":"Liberation Sans","color":"#b4b4b4"},
 "encoding":{"x":{"field":"i","type":"quantitative","axis":null},"y":{"datum":152.04,"type":"quantitative","axis":null},"text":{"field":"t"}}},
{"data":{"name":"lv1"},"mark":{"type":"point","shape":"M-1,-0.14H1V0.14H-1Z","size":506,"filled":true,"opacity":1,"strokeWidth":0},
 "encoding":{"x":{"datum":238.8,"type":"quantitative","axis":null},"y":{"field":"p","type":"quantitative","axis":null},
 "fill":{"field":"k","type":"nominal","scale":{"domain":["w","b","o","g"],"range":["#ffffff","#3c62dc","#f0a818","#26c426"]},"legend":null}}},
{"data":{"name":"lv1"},"mark":{"type":"text","fontSize":5.6,"font":"Liberation Sans","baseline":"middle"},
 "encoding":{"x":{"datum":238.8,"type":"quantitative","axis":null},"y":{"field":"p","type":"quantitative","axis":null},
 "text":{"field":"p","type":"quantitative","format":".3f"},
 "color":{"field":"k","type":"nominal","scale":{"domain":["w","b","o","g"],"range":["#202020","#dfe8ff","#3a2500","#0c3a0c"]},"legend":null}}},
{"data":{"values":[{}]},"mark":{"type":"text","text":"▼ USDJPY.oj1m,H1  153.719 153.754 153.640 153.741","align":"left","baseline":"middle","fontSize":5.5,"font":"Liberation Sans","color":"#c4c4c4"},
 "encoding":{"x":{"datum":0.7,"type":"quantitative","axis":null},"y":{"datum":157.836,"type":"quantitative","axis":null}}},
{"data":{"values":[{}]},"mark":{"type":"text","text":"USD JPY","align":"left","baseline":"middle","fontSize":13,"font":"Liberation Sans","color":"#e00000"},
 "encoding":{"x":{"datum":0,"type":"quantitative","axis":null},"y":{"datum":157.62,"type":"quantitative","axis":null}}},
{"data":{"values":[{}]},"mark":{"type":"text","text":"メイン","align":"left","baseline":"middle","fontSize":13,"font":"Noto Sans CJK JP","color":"#ffffff"},
 "encoding":{"x":{"datum":15,"type":"quantitative","axis":null},"y":{"datum":157.62,"type":"quantitative","axis":null}}},
{"data":{"values":[{}]},"mark":{"type":"text","text":"H1","align":"right","baseline":"middle","fontSize":17,"font":"Liberation Sans","color":"#2a9a58"},
 "encoding":{"x":{"datum":234.9,"type":"quantitative","axis":null},"y":{"datum":157.67,"type":"quantitative","axis":null}}}
]
}
],
"config":{
 "view":{"fill":"#000000","stroke":"#5c5c5c","strokeWidth":1}
}
}
